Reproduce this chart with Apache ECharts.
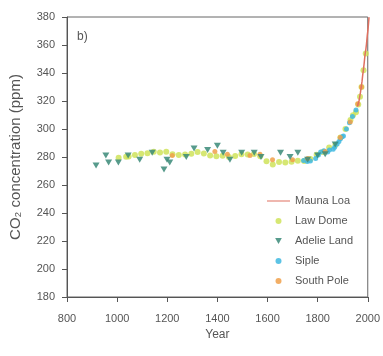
<!DOCTYPE html>
<html>
<head>
<meta charset="utf-8">
<script src="https://cdn.jsdelivr.net/npm/echarts@6/dist/echarts.min.js"></script>
<style>
html,body{margin:0;padding:0;background:#fff;}
#chart{width:383px;height:356px;}
</style>
</head>
<body>
<div id="chart"></div>
<script>
// ---- data ----
var xTicks = [800, 1000, 1200, 1400, 1600, 1800, 2000];
var yTicks = [180, 200, 220, 240, 260, 280, 300, 320, 340, 360, 380];

var maunaLoaYears = [1959, 1962, 1965, 1968, 1971, 1974, 1977, 1980, 1983, 1986, 1989, 1992, 1995, 1998, 2001, 2004, 2005];
var maunaLoaValues = [316.0, 318.4, 320.0, 323.1, 326.3, 330.2, 333.8, 338.8, 342.8, 347.6, 353.1, 356.4, 360.9, 366.7, 371.1, 377.5, 379.8];

var lawDomeYears = [1006, 1036, 1046, 1071, 1096, 1121, 1146, 1171, 1196, 1221, 1246, 1271, 1296, 1321, 1346, 1371, 1396, 1421, 1446, 1471, 1496, 1521, 1546, 1571, 1596, 1621, 1646, 1671, 1696, 1721, 1746, 1771, 1796, 1821, 1846, 1871, 1891, 1911, 1931, 1941, 1953, 1962, 1969, 1975, 1983, 1992];
var lawDomeValues = [279.4, 280.1, 280.3, 281.5, 282.4, 282.6, 283.8, 283.3, 283.7, 282.0, 281.5, 281.8, 282.4, 283.6, 282.5, 281.0, 280.5, 280.9, 280.0, 280.8, 282.0, 281.7, 282.1, 280.6, 277.0, 274.7, 276.5, 276.1, 276.6, 277.3, 277.2, 278.5, 281.6, 283.5, 286.8, 288.8, 294.0, 300.0, 306.5, 309.8, 312.0, 317.5, 323.0, 330.0, 342.0, 354.0];

var adelieYears = [916, 955, 966, 1005, 1044, 1090, 1140, 1187, 1199, 1210, 1276, 1307, 1361, 1400, 1423, 1450, 1497, 1547, 1574, 1652, 1690, 1721, 1760, 1800, 1830, 1870];
var adelieValues = [274, 281, 276, 276, 281, 278, 283, 271, 278, 276, 280, 286, 285, 288, 283, 278, 283, 283, 280, 283, 280, 283, 278, 281, 282, 289];

var sipleYears = [1744, 1759, 1771, 1792, 1803, 1812, 1825, 1840, 1847, 1862, 1868, 1878, 1885, 1891, 1898, 1903, 1915, 1927, 1939, 1953];
var sipleValues = [277.5, 276.8, 277.2, 279.0, 281.5, 283.5, 284.5, 283.5, 285.0, 285.5, 287.0, 289.3, 291.0, 293.0, 294.5, 295.0, 300.0, 304.5, 309.0, 313.5];

var southPoleYears = [1220, 1390, 1440, 1530, 1570, 1620, 1700, 1760, 1830, 1890, 1930, 1960, 1975];
var southPoleValues = [281, 284, 282, 281, 282, 278, 278, 279, 284, 294, 305, 318, 330];

function pairs(xs, ys) { return xs.map(function (x, i) { return [x, ys[i]]; }); }

var font = 'Liberation Sans, Arial, sans-serif';
var triPath = 'path://M0,0L10,0L5,9Z';
var linePath = 'path://M0,0L0.01,0M0,2.5L23,2.5L23,3.5L0,3.5ZM0,6L0.01,6';
var chart = echarts.init(document.getElementById('chart'), null, {renderer: 'canvas'});
chart.setOption({
  animation: false,
  backgroundColor: '#ffffff',
  textStyle: {fontFamily: font},
  grid: {left: 67, right: 6, top: 17, bottom: 59, show: true, borderColor: '#666', borderWidth: 1},
  xAxis: {
    type: 'value', min: xTicks[0], max: xTicks[xTicks.length - 1], interval: 200,
    name: 'Year', nameLocation: 'middle', nameGap: 30,
    nameTextStyle: {fontSize: 12, color: '#555', fontFamily: font},
    axisLine: {show: true, lineStyle: {color: '#555'}},
    axisTick: {show: true, length: 5, lineStyle: {color: '#555'}},
    axisLabel: {fontSize: 11, color: '#555', margin: 16, fontFamily: font,
      formatter: function (v) { return String(v); }},
    splitLine: {show: false}
  },
  yAxis: {
    type: 'value', min: yTicks[0], max: yTicks[yTicks.length - 1], interval: 20,
    name: 'CO\u2082 concentration (ppm)', nameLocation: 'middle', nameGap: 44,
    nameTextStyle: {fontSize: 15, color: '#555', fontFamily: font},
    axisLine: {show: true, lineStyle: {color: '#555'}},
    axisTick: {show: true, length: 5, lineStyle: {color: '#555'}},
    axisLabel: {fontSize: 11, color: '#555', margin: 12, fontFamily: font,
      formatter: function (v) { return String(v); }},
    splitLine: {show: false}
  },
  legend: {
    orient: 'vertical', left: 262, top: 190, itemGap: 8, itemWidth: 23, itemHeight: 6,
    textStyle: {fontSize: 11, color: '#555', lineHeight: 12, fontFamily: font},
    data: [
      {name: 'Mauna Loa', icon: linePath},
      {name: 'Law Dome', icon: 'circle'},
      {name: 'Adelie Land', icon: triPath},
      {name: 'Siple', icon: 'circle'},
      {name: 'South Pole', icon: 'circle'}
    ]
  },
  graphic: [{type: 'text', left: 77, top: 31, style: {text: 'b)', fontSize: 12, fill: '#555', fontFamily: font}}],
  series: [
    {name: 'Law Dome', type: 'scatter', data: pairs(lawDomeYears, lawDomeValues), symbol: 'circle', symbolSize: 6,
      itemStyle: {color: '#cfe35a', opacity: 0.85}},
    {name: 'Siple', type: 'scatter', data: pairs(sipleYears, sipleValues), symbol: 'circle', symbolSize: 5,
      itemStyle: {color: '#3fb8e0', opacity: 0.85}},
    {name: 'South Pole', type: 'scatter', data: pairs(southPoleYears, southPoleValues), symbol: 'circle', symbolSize: 5,
      itemStyle: {color: '#f0a04a', opacity: 0.85}},
    {name: 'Adelie Land', type: 'scatter', data: pairs(adelieYears, adelieValues), symbol: triPath, symbolSize: [7, 6],
      itemStyle: {color: '#3a8a78', opacity: 0.85}},
    {name: 'Mauna Loa', type: 'line', data: pairs(maunaLoaYears, maunaLoaValues), symbol: 'none', clip: true,
      lineStyle: {color: '#e07060', width: 1.5}, itemStyle: {color: '#e07060'}}
  ]
});
</script>
</body>
</html>
